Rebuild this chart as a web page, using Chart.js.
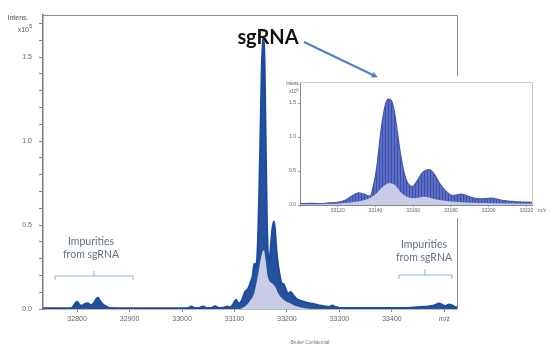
<!DOCTYPE html>
<html><head><meta charset="utf-8">
<script src="https://cdn.jsdelivr.net/npm/chart.js@4.4.1/dist/chart.umd.min.js"></script>
<style>
html,body{margin:0;padding:0;background:#fff;}
#wrap{position:relative;width:555px;height:348px;overflow:hidden;font-family:"Liberation Sans",Arial,sans-serif;}
canvas{position:absolute;display:block;}
#main{left:0;top:0;}
#inset{left:283px;top:76px;background:#fff;}
.t{position:absolute;white-space:nowrap;transform:translate(-50%,-50%);line-height:1;}
.ann{font-family:Lato,"Open Sans",sans-serif;color:#667084;font-size:10.5px;text-align:center;line-height:13px;}
svg{position:absolute;left:0;top:0;}
</style></head>
<body>
<div id="wrap">
<canvas id="main" width="555" height="348"></canvas>
<canvas id="inset" width="272" height="142"></canvas>
<svg width="555" height="348">
 <defs><marker id="ah" markerWidth="6" markerHeight="6" refX="3" refY="3" orient="auto" markerUnits="userSpaceOnUse"><path d="M0,0 L6,3 L0,6 z" fill="#4a80c4"/></marker></defs>
 <line x1="304" y1="42" x2="375" y2="76" stroke="#4a80c4" stroke-width="2" marker-end="url(#ah)"/>
 <path d="M55,280 L55,276 L133,276 L133,280 M94,276 L94,271" fill="none" stroke="#93b2d0" stroke-width="1"/>
 <path d="M399,279 L399,275 L452,275 L452,279 M425,275 L425,269" fill="none" stroke="#93b2d0" stroke-width="1"/>
</svg>
<div class="t" style="left:18px;top:17px;font-size:7px;color:#555;">Intens.</div>
<div class="t" style="left:25px;top:28px;font-size:7px;color:#555;">x10<sup style="font-size:6px;vertical-align:4px;">5</sup></div>
<div class="t" style="left:268px;top:36px;font-family:Lato,'Open Sans',sans-serif;font-weight:bold;font-size:20px;color:#111;">sgRNA</div>
<div class="t ann" style="left:91px;top:248px;">Impurities<br>from sgRNA</div>
<div class="t ann" style="left:424px;top:251px;">Impurities<br>from sgRNA</div>
<div class="t" style="left:293px;top:84px;font-size:4.5px;color:#555;">Intens.</div>
<div class="t" style="left:294px;top:91px;font-size:4.5px;color:#555;">x10<sup style="font-size:4px;vertical-align:2px;">5</sup></div>
<div class="t" style="left:542px;top:210px;font-size:5px;color:#666;">m/z</div>
<div class="t" style="left:310px;top:343px;font-size:4.5px;color:#777;">-Bruker Confidential-</div>
</div>
<script>
// Main spectrum (m/z, intensity x10^5) - upper envelope
const mzMain = [32735,32780,32790,32795,32800,32805,32810,32815,32820,32826,32832,32837,32840,32844,32850,32856,32863,32900,33000,33012,33018,33024,33033,33040,33046,33056,33063,33070,33079,33086,33092,33098,33103,33108,33114,33120,33126,33131,33135,33138,33141,33144,33147,33150,33152,33154,33155.5,33157,33159,33161,33163,33166,33169,33172,33175,33177,33179,33182,33186,33190,33193,33197,33202,33207,33212,33220,33230,33240,33250,33262,33272,33280,33286,33292,33300,33420,33440,33455,33470,33480,33490,33497,33503,33508,33514,33520,33524];
const intensMain = [0.004,0.004,0.006,0.025,0.042,0.022,0.02,0.03,0.033,0.022,0.035,0.06,0.066,0.045,0.025,0.014,0.005,0.004,0.004,0.006,0.014,0.006,0.006,0.015,0.006,0.006,0.016,0.006,0.007,0.014,0.01,0.03,0.055,0.03,0.05,0.1,0.12,0.16,0.2,0.27,0.25,0.34,0.65,1.1,1.42,1.58,1.62,1.48,1.05,0.62,0.36,0.28,0.36,0.47,0.52,0.47,0.38,0.28,0.2,0.15,0.15,0.12,0.09,0.1,0.08,0.055,0.045,0.035,0.03,0.02,0.015,0.012,0.02,0.012,0.006,0.005,0.008,0.012,0.015,0.02,0.032,0.022,0.018,0.026,0.022,0.012,0.01];
// Main spectrum - lower (light) envelope
const mzMainLow = [33110,33120,33130,33138,33144,33149,33153,33156,33159,33163,33168,33173,33178,33184,33192,33202,33215,33235,33250];
const intensMainLow = [0,0.015,0.05,0.1,0.19,0.28,0.34,0.35,0.3,0.2,0.16,0.15,0.13,0.09,0.06,0.04,0.02,0.005,0];
// Inset (zoomed) spectrum
const mzInset = [33100,33105,33110,33115,33120,33124,33128,33131,33134,33137,33139.5,33141,33142.5,33144,33145.5,33147,33148.6,33150,33151.5,33153,33155,33157,33159.5,33162,33165,33168.5,33171,33174,33177.5,33181,33185.5,33190,33195,33201.5,33207,33214,33223];
const intensInset = [0.02,0.025,0.02,0.03,0.04,0.07,0.14,0.18,0.16,0.13,0.36,0.62,1.0,1.3,1.5,1.56,1.53,1.38,1.1,0.8,0.5,0.33,0.27,0.35,0.48,0.52,0.46,0.32,0.2,0.14,0.16,0.12,0.09,0.1,0.07,0.05,0.04];
const mzInsetLow = [33100,33120,33128,33135,33140,33144,33147,33150,33154,33160,33166,33171,33180,33195,33223];
const intensInsetLow = [0.01,0.02,0.04,0.08,0.16,0.27,0.32,0.3,0.17,0.1,0.12,0.09,0.05,0.03,0.02];
// Tick settings
const mainXTicks = {min:32735, max:33524, step:100, lastLabel:33500};
const mainYTicks = {min:0, max:1.75, step:0.1};
const insetXTicks = {min:33100, max:33223, step:20};
const insetYTicks = {min:0, max:1.81, step:0.5};

const pts = (xs, ys) => xs.map((x,i)=>({x, y:ys[i]}));
const axisFont = {size:7, family:'Liberation Sans'};

const framePlugin = {id:'frame', afterDraw(c, args, opts){
  const a=c.chartArea, ctx=c.ctx; ctx.save(); ctx.strokeStyle=opts.color; ctx.lineWidth=1;
  ctx.beginPath(); ctx.moveTo(a.left, a.top+0.5); ctx.lineTo(a.right+0.5, a.top+0.5); ctx.lineTo(a.right+0.5, a.bottom); ctx.stroke(); ctx.restore();
}};

new Chart(document.getElementById('main'), {
  type:'line',
  data:{datasets:[
    {data:pts(mzMainLow,intensMainLow), borderWidth:0, borderColor:'rgba(0,0,0,0)', backgroundColor:'#c8cce7', fill:'origin', pointRadius:0, cubicInterpolationMode:'monotone'},
    {data:pts(mzMain,intensMain), borderColor:'#1e4b9c', borderWidth:2.2, backgroundColor:'#24529f', fill:'origin', pointRadius:0, cubicInterpolationMode:'monotone'}
  ]},
  options:{
    responsive:false, animation:false, devicePixelRatio:1,
    layout:{padding:{left:0, top:15, right:98, bottom:0}},
    plugins:{legend:{display:false}, tooltip:{enabled:false}, frame:{color:'#8c8c8c'}},
    scales:{
      x:{type:'linear', min:mainXTicks.min, max:mainXTicks.max, afterFit:s=>{s.height=39;},
        grid:{drawOnChartArea:false, tickLength:3, color:'#888'}, border:{color:'#7a7a7a', width:1.5},
        ticks:{stepSize:mainXTicks.step, includeBounds:false, autoSkip:false, maxRotation:0, padding:3, color:'#666', font:axisFont,
          callback:v=> v===mainXTicks.lastLabel ? 'm/z' : String(v)}},
      y:{min:mainYTicks.min, max:mainYTicks.max, afterFit:s=>{s.width=43;},
        grid:{drawOnChartArea:false, tickLength:4, color:'#888'}, border:{color:'#7a7a7a', width:1.5},
        ticks:{stepSize:mainYTicks.step, includeBounds:false, autoSkip:false, padding:7, color:'#666', font:axisFont,
          callback:v=> (Math.round(v*10)%5===0) ? v.toFixed(1) : ''}}
    }
  },
  plugins:[framePlugin]
});

// stripe pattern for the dense isotope fine structure in the inset
const pc=document.createElement('canvas'); pc.width=3; pc.height=4;
const pctx=pc.getContext('2d'); pctx.fillStyle='#5d6fc3'; pctx.fillRect(0,0,3,4); pctx.fillStyle='#3a4fab'; pctx.fillRect(0,0,1,4);
const stripe = pctx.createPattern(pc,'repeat');

new Chart(document.getElementById('inset'), {
  type:'line',
  data:{datasets:[
    {data:pts(mzInsetLow,intensInsetLow), borderWidth:0, borderColor:'rgba(0,0,0,0)', backgroundColor:'#c9cce9', fill:'origin', pointRadius:0, cubicInterpolationMode:'monotone'},
    {data:pts(mzInset,intensInset), borderColor:'#4559b2', borderWidth:1.2, backgroundColor:stripe, fill:'origin', pointRadius:0, cubicInterpolationMode:'monotone'}
  ]},
  options:{
    responsive:false, animation:false, devicePixelRatio:1,
    layout:{padding:{left:0, top:6, right:23, bottom:0}},
    plugins:{legend:{display:false}, tooltip:{enabled:false}, frame:{color:'#c8c8c8'}},
    scales:{
      x:{type:'linear', min:insetXTicks.min, max:insetXTicks.max, afterFit:s=>{s.height=13;},
        grid:{drawOnChartArea:false, tickLength:2, color:'#999'}, border:{color:'#888', width:1},
        ticks:{stepSize:insetXTicks.step, includeBounds:false, autoSkip:false, maxRotation:0, padding:1, color:'#666', font:{size:5, family:'Liberation Sans'},
          callback:v=> v===insetXTicks.min ? '' : String(v)}},
      y:{min:insetYTicks.min, max:insetYTicks.max, afterFit:s=>{s.width=17;},
        grid:{drawOnChartArea:false, tickLength:2, color:'#999'}, border:{color:'#888', width:1},
        ticks:{stepSize:insetYTicks.step, includeBounds:false, autoSkip:false, padding:2, color:'#666', font:{size:5, family:'Liberation Sans'},
          callback:v=> v.toFixed(1)}}
    }
  },
  plugins:[framePlugin]
});
</script>
</body></html>
